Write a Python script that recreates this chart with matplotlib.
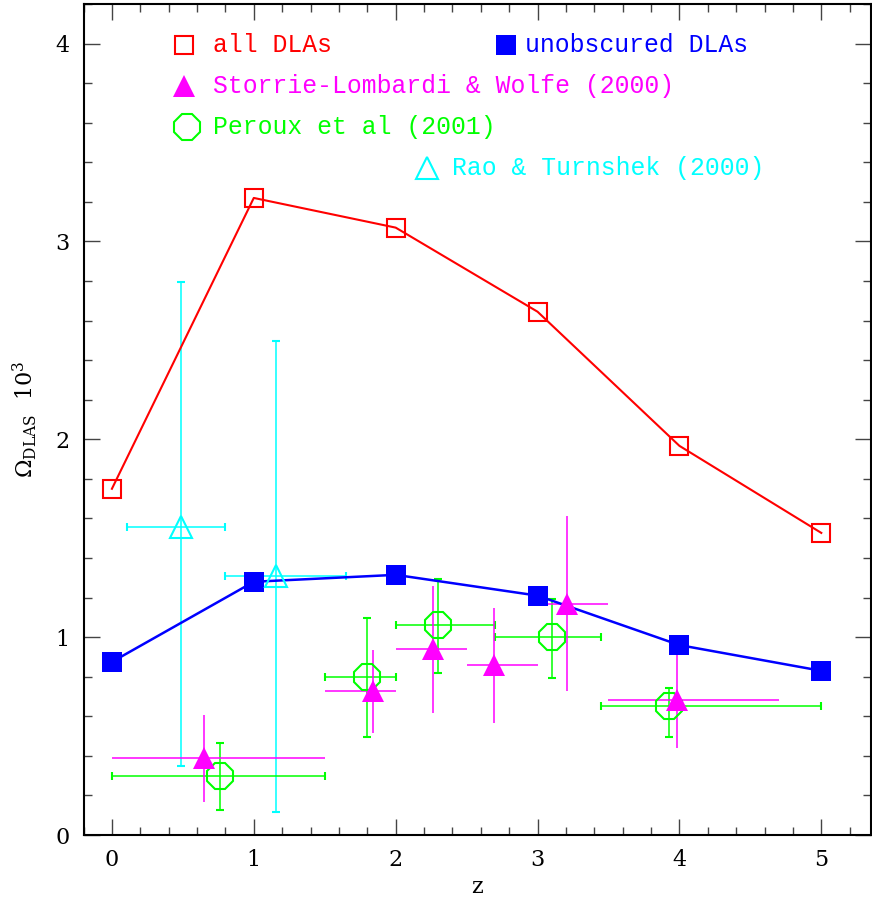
import matplotlib
matplotlib.use("Agg")
import matplotlib.pyplot as plt
from matplotlib.ticker import MultipleLocator

plt.rcParams['font.family'] = ['DejaVu Serif']
plt.rcParams['mathtext.fontset'] = 'dejavuserif'

# Model predictions
z_model = [0, 1, 2, 3, 4, 5]
omega_all = [1.75, 3.22, 3.07, 2.645, 1.967, 1.527]
omega_unobscured = [0.875, 1.28, 1.315, 1.21, 0.96, 0.83]

# Storrie-Lombardi & Wolfe (2000)
slw_z = [0.65, 1.84, 2.26, 2.69, 3.21, 3.98]
slw_omega = [0.39, 0.73, 0.94, 0.86, 1.17, 0.68]
slw_zlo = [0.0, 1.5, 2.0, 2.5, 3.0, 3.5]
slw_zhi = [1.5, 2.0, 2.5, 3.0, 3.5, 4.7]
slw_omlo = [0.167, 0.517, 0.618, 0.567, 0.728, 0.438]
slw_omhi = [0.607, 0.936, 1.259, 1.148, 1.61, 0.917]

# Peroux et al (2001)
per_z = [0.76, 1.80, 2.30, 3.10, 3.93]
per_omega = [0.30, 0.80, 1.06, 1.00, 0.65]
per_zlo = [0.0, 1.5, 2.0, 2.7, 3.45]
per_zhi = [1.5, 2.0, 2.7, 3.45, 5.0]
per_omlo = [0.126, 0.497, 0.817, 0.796, 0.497]
per_omhi = [0.467, 1.099, 1.296, 1.195, 0.745]

# Rao & Turnshek (2000)
rt_z = [0.49, 1.155]
rt_omega = [1.557, 1.31]
rt_zlo = [0.106, 0.80]
rt_zhi = [0.80, 1.653]
rt_omlo = [0.349, 0.118]
rt_omhi = [2.797, 2.498]

RED, BLUE, MAG, GRN, CYN = '#ff0000', '#0000ff', '#ff00ff', '#00ff00', '#00ffff'

fig = plt.figure(figsize=(8.72, 9.0), dpi=100)
ax = fig.add_axes([0.0958, 0.0722, 0.903, 0.9233])


def errs(vals, lo, hi):
    return [[v - l for v, l in zip(vals, lo)], [h - v for v, h in zip(vals, hi)]]


ebkw = dict(linestyle='none', elinewidth=1.1, capsize=3.0, capthick=1.1)

ax.errorbar(rt_z, rt_omega, xerr=errs(rt_z, rt_zlo, rt_zhi),
            yerr=errs(rt_omega, rt_omlo, rt_omhi), color=CYN, marker='^',
            markersize=16, markerfacecolor='none', markeredgewidth=1.5, **ebkw)
ax.errorbar(per_z, per_omega, xerr=errs(per_z, per_zlo, per_zhi),
            yerr=errs(per_omega, per_omlo, per_omhi), color=GRN, marker='8',
            markersize=20, markerfacecolor='none', markeredgewidth=1.5, **ebkw)
ax.errorbar(slw_z, slw_omega, xerr=errs(slw_z, slw_zlo, slw_zhi),
            yerr=errs(slw_omega, slw_omlo, slw_omhi), color=MAG, marker='^',
            markersize=16, markeredgewidth=0, **ebkw)

ax.plot(z_model, omega_all, color=RED, linewidth=1.5, marker='s', markersize=13.5,
        markerfacecolor='none', markeredgewidth=1.5)
ax.plot(z_model, omega_unobscured, color=BLUE, linewidth=1.8, marker='s',
        markersize=14.5, markeredgewidth=0)

# Key
tr = ax.transAxes
key_font = dict(family=['Liberation Mono', 'DejaVu Sans Mono'], fontsize=17.8, va='center')
ax.plot([0.1276], [0.9507], transform=tr, marker='s', markersize=13.5, color=RED,
        markerfacecolor='none', markeredgewidth=1.5, linestyle='none')
ax.text(0.1644, 0.9507, 'all DLAs', transform=tr, color=RED, **key_font)
ax.plot([0.5365], [0.9507], transform=tr, marker='s', markersize=14.5, color=BLUE,
        markeredgewidth=0, linestyle='none')
ax.text(0.5606, 0.9507, 'unobscured DLAs', transform=tr, color=BLUE, **key_font)
ax.plot([0.1276], [0.9013], transform=tr, marker='^', markersize=16, color=MAG,
        markeredgewidth=0, linestyle='none')
ax.text(0.1644, 0.9013, 'Storrie-Lombardi & Wolfe (2000)', transform=tr, color=MAG,
        **key_font)
ax.plot([0.1315], [0.852], transform=tr, marker='8', markersize=20, color=GRN,
        markerfacecolor='none', markeredgewidth=1.5, linestyle='none')
ax.text(0.1644, 0.852, 'Peroux et al (2001)', transform=tr, color=GRN, **key_font)
ax.plot([0.436], [0.8026], transform=tr, marker='^', markersize=16, color=CYN,
        markerfacecolor='none', markeredgewidth=1.5, linestyle='none')
ax.text(0.468, 0.8026, 'Rao & Turnshek (2000)', transform=tr, color=CYN, **key_font)

ax.set_xlim(-0.2, 5.35)
ax.set_ylim(0, 4.2)
ax.xaxis.set_major_locator(MultipleLocator(1))
ax.xaxis.set_minor_locator(MultipleLocator(0.2))
ax.yaxis.set_major_locator(MultipleLocator(1))
ax.yaxis.set_minor_locator(MultipleLocator(0.2))
ax.tick_params(which='both', direction='in', top=True, right=True, width=1.0, color='#444444')
ax.tick_params(which='major', length=11.5, labelsize=16, pad=10)
ax.tick_params(which='minor', length=5.8)
for s in ax.spines.values():
    s.set_linewidth(1.5)

ax.set_xlabel('z', fontsize=16, labelpad=4)
ax.set_ylabel(r'$\Omega_{\rm DLAS}\ \ 10^3$', fontsize=16, labelpad=12)

fig.savefig('out.png', dpi=100)
